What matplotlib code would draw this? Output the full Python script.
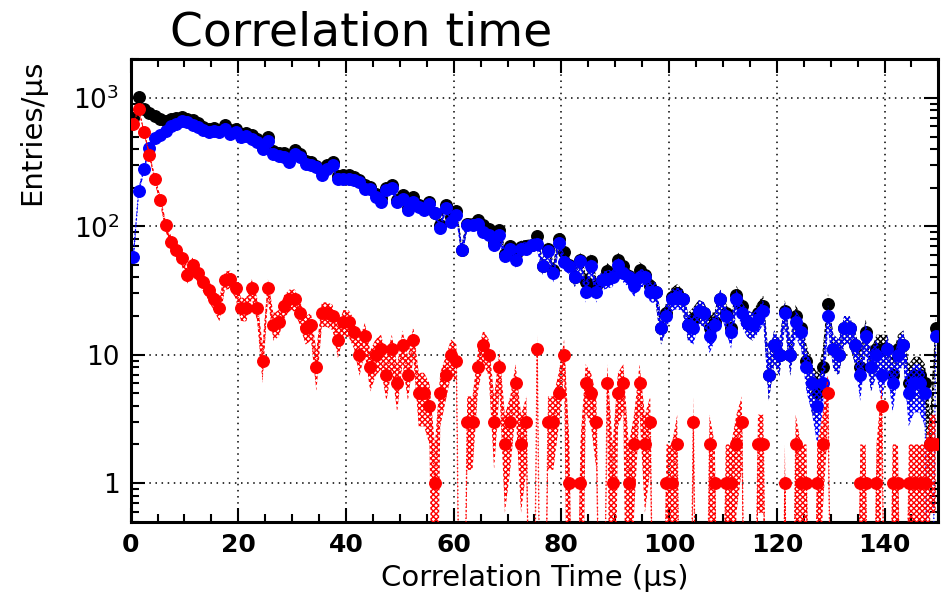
import numpy as np
import matplotlib
matplotlib.use('Agg')
import matplotlib.pyplot as plt
from matplotlib.ticker import FixedLocator, MultipleLocator, LogLocator, NullFormatter

# histogram binning: 150 bins of 1 us from 0 to 150 us
x_lo, x_hi, n_bins = 0, 150, 150

# entries per us, read bin by bin (0 = empty bin)
total = [700, 1010, 822, 770, 717, 680, 659, 685, 693, 715,
         688, 670, 633, 597, 577, 584, 564, 612, 564, 574,
         523, 532, 513, 475, 411, 499, 384, 374, 370, 343,
         394, 367, 323, 315, 297, 270, 302, 318, 248, 253,
         253, 243, 231, 210, 204, 179, 166, 200, 211, 161,
         176, 140, 168, 146, 138, 154, 127, 102, 147, 118,
         131, 65, 105, 105, 113, 102, 96, 74, 93, 61,
         70, 61, 69, 70, 71, 84, 49, 67, 46, 79,
         63, 50, 40, 55, 37, 54, 34, 38, 45, 41,
         55, 49, 41, 36, 46, 42, 34, 31, 16, 21,
         28, 30, 27, 17, 19, 22, 21, 16, 18, 27,
         21, 16, 29, 24, 18, 17, 21, 24, 7, 12,
         10, 22, 10, 20, 16, 9, 6, 5, 8, 25,
         11, 10, 16, 16, 12, 8, 15, 8, 11, 11,
         11, 7, 11, 12, 6, 7, 7, 6, 2, 16]

late = [58, 188, 281, 409, 485, 519, 557, 609, 628, 658,
        646, 620, 590, 560, 545, 557, 541, 574, 525, 541,
        500, 509, 480, 452, 402, 466, 367, 356, 346, 316,
        367, 346, 307, 298, 289, 249, 281, 298, 235, 235,
        235, 228, 221, 196, 196, 169, 155, 193, 200, 155,
        164, 133, 155, 141, 133, 150, 126, 97, 140, 108,
        122, 65, 102, 102, 105, 90, 86, 71, 85, 59,
        67, 55, 67, 67, 71, 73, 49, 64, 43, 74,
        53, 49, 40, 54, 31, 49, 31, 38, 39, 40,
        50, 43, 40, 34, 40, 40, 31, 31, 16, 20,
        27, 28, 27, 17, 16, 22, 21, 14, 17, 27,
        20, 15, 27, 21, 18, 17, 19, 22, 7, 12,
        10, 21, 10, 18, 15, 8, 6, 4, 6, 20,
        11, 10, 16, 16, 12, 7, 14, 8, 10, 7,
        11, 6, 10, 12, 5, 6, 6, 5, 0, 14]

early = [630, 820, 541, 361, 232, 161, 102, 76, 65, 57,
         42, 50, 43, 37, 32, 27, 23, 38, 39, 33,
         23, 23, 33, 23, 9, 33, 17, 18, 24, 27,
         27, 21, 16, 17, 8, 21, 21, 20, 13, 18,
         18, 15, 10, 14, 8, 10, 11, 7, 11, 6,
         12, 7, 13, 5, 5, 4, 1, 5, 7, 10,
         9, 0, 3, 3, 8, 12, 10, 3, 8, 2,
         3, 6, 2, 3, 0, 11, 0, 3, 3, 5,
         10, 1, 0, 1, 6, 5, 3, 0, 6, 1,
         5, 6, 1, 2, 6, 2, 3, 0, 0, 1,
         1, 2, 0, 0, 3, 0, 0, 2, 1, 0,
         1, 1, 2, 3, 0, 0, 2, 2, 0, 0,
         0, 1, 0, 2, 1, 1, 0, 1, 2, 5,
         0, 0, 0, 0, 0, 1, 1, 0, 1, 4,
         0, 1, 1, 0, 1, 1, 1, 1, 2, 2]

edges = np.linspace(x_lo, x_hi, n_bins + 1)
centres = 0.5 * (edges[:-1] + edges[1:])

plt.rcParams['hatch.linewidth'] = 1.0

fig = plt.figure(figsize=(9.43, 5.99), dpi=100)
ax = fig.add_axes([0.1385, 0.129, 0.8566, 0.772])


def draw_hist(vals, col, z):
    v = np.array(vals, dtype=float)
    err = np.sqrt(v)
    floor = 1e-3
    lo = np.clip(v - err, floor, None)
    hi = np.clip(v + err, floor, None)
    # error band (ROOT style dotted fill)
    ax.fill_between(centres, lo, hi, facecolor='none', edgecolor=col,
                    hatch='xxxxxx', linewidth=0, zorder=z)
    # connecting line
    ax.plot(centres, np.clip(v, floor, None), ls=':', lw=1, color=col, zorder=z + 0.1)
    # markers only for filled bins
    m = v > 0
    ax.plot(centres[m], v[m], 'o', ms=8.3, color=col, mec=col, zorder=z + 0.2)


draw_hist(total, 'black', 2)
draw_hist(late, '#0000ff', 3)
draw_hist(early, '#ff0000', 4)

ax.set_yscale('log')
ax.set_xlim(0, 150)
ax.set_ylim(0.5, 2000)

ax.xaxis.set_major_locator(MultipleLocator(20))
ax.xaxis.set_minor_locator(MultipleLocator(5))
ax.yaxis.set_major_locator(FixedLocator([1, 10, 100, 1000]))
ax.yaxis.set_minor_locator(LogLocator(base=10, subs=np.arange(2, 10)))
ax.yaxis.set_minor_formatter(NullFormatter())
ax.set_yticklabels(['1', '10', '10$^{2}$', '10$^{3}$'])

ax.tick_params(which='both', direction='in', top=True, right=True, width=1.5)
ax.tick_params(which='major', length=10)
ax.tick_params(which='minor', length=6)
ax.tick_params(axis='x', labelsize=18, pad=8)
ax.tick_params(axis='y', labelsize=19, pad=8)
for lab in ax.get_xticklabels():
    lab.set_fontweight('bold')

for sp in ax.spines.values():
    sp.set_linewidth(2.2)

ax.grid(True, which='major', color='black', ls=(0, (1, 3)), lw=1.1)
ax.set_axisbelow(True)

fig.text(170 / 943, 1 - 46 / 599, 'Correlation time', fontsize=34, ha='left', va='baseline')
ax.set_xlabel('Correlation Time (\u03bcs)', fontsize=21, labelpad=5)
fig.text(18 / 943, 1 - 60 / 599, 'Entries/\u03bcs', fontsize=21, rotation=90, ha='left', va='top')

fig.savefig('out.png', dpi=100)
